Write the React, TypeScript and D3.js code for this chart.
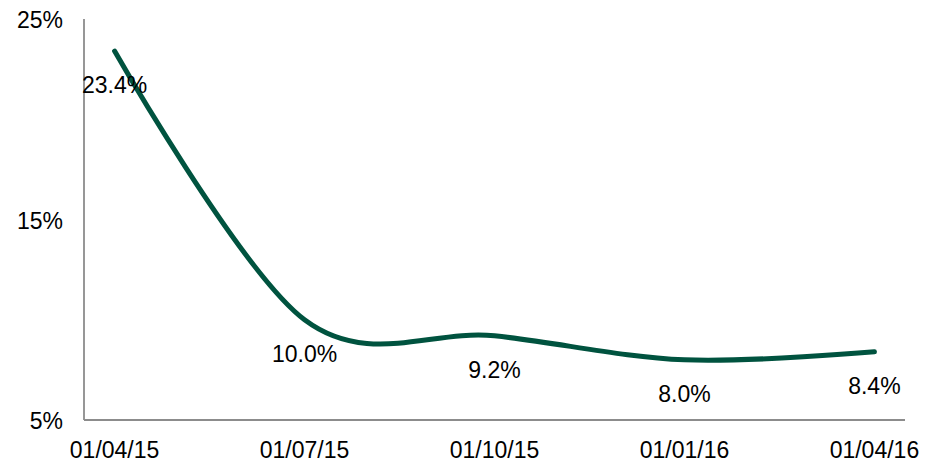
import React from "react";
import * as d3 from "d3";

const categories = ["01/04/15", "01/07/15", "01/10/15", "01/01/16", "01/04/16"];
const values = [23.4, 10.0, 9.2, 8.0, 8.4];
const yTicks = [5, 15, 25];

const W = 936;
const H = 465;
const FONT = "'Liberation Sans', Arial, sans-serif";

export default function App() {
  const x = d3.scalePoint<string>().domain(categories).range([84, 905]).padding(0.161);
  const y = d3.scaleLinear().domain([5, 25]).range([420, 19]);
  const data = categories.map((c, i) => ({ c, v: values[i] }));
  const line = d3
    .line<{ c: string; v: number }>()
    .x((d) => x(d.c) as number)
    .y((d) => y(d.v))
    .curve(d3.curveCardinal.tension(0));

  return (
    <svg
      width={W}
      height={H}
      style={{ position: "absolute", left: 0, top: 0, background: "#fff" }}
      fontFamily={FONT}
    >
      <line x1={84} x2={84} y1={y(25)} y2={y(5)} stroke="#8c8c8c" strokeWidth={1.8} />
      <line x1={84} x2={905} y1={y(5)} y2={y(5)} stroke="#8c8c8c" strokeWidth={1.8} />
      {yTicks.map((t) => (
        <text key={t} x={63} y={y(t) + 9} textAnchor="end" fontSize={23} fill="#000">
          {t}%
        </text>
      ))}
      {categories.map((c) => (
        <text key={c} x={x(c)} y={458} textAnchor="middle" fontSize={23} fill="#000">
          {c}
        </text>
      ))}
      <path d={line(data) || ""} fill="none" stroke="#00533f" strokeWidth={5} strokeLinecap="round" />
      {data.map((d) => (
        <text
          key={d.c}
          x={x(d.c)}
          y={y(d.v) + 42}
          textAnchor="middle"
          fontSize={23}
          fill="#000"
        >
          {d.v.toFixed(1)}%
        </text>
      ))}
    </svg>
  );
}
